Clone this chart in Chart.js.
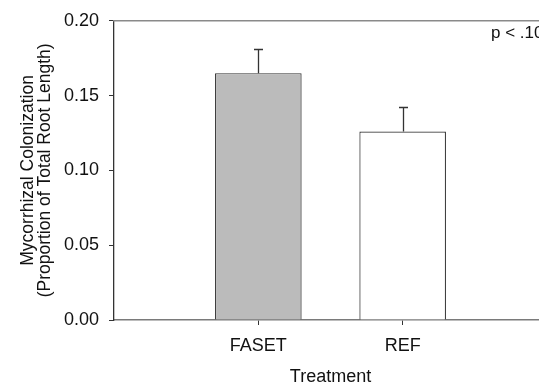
<!DOCTYPE html>
<html>
<head>
<meta charset="utf-8">
<script src="https://cdn.jsdelivr.net/npm/chart.js@4"></script>
<style>
html,body{margin:0;padding:0;background:#fff;overflow:hidden;}
#wrap{position:relative;width:560px;height:388px;}
</style>
</head>
<body>
<div id="wrap"><canvas id="c"></canvas></div>
<script>
const axisSlots = ['', 'FASET', 'REF', ''];
const categories = ['FASET', 'REF'];
const meanValues = [null, 0.165, 0.126, null];
const errorValues = [null, 0.016, 0.0165, null];
const yTickValues = [0, 0.05, 0.10, 0.15, 0.20];
const annotationText = 'p < .10';

const FONT = "'Liberation Sans', Arial, sans-serif";

const errorBarPlugin = {
  id: 'errorBars',
  afterDatasetsDraw(chart) {
    const ctx = chart.ctx;
    const xs = chart.scales.x, ys = chart.scales.y;
    ctx.save();
    ctx.strokeStyle = '#333';
    ctx.lineWidth = 1.3;
    meanValues.forEach((v, i) => {
      if (v === null) return;
      const px = Math.round(xs.getPixelForValue(i)) + 0.5;
      const y0 = ys.getPixelForValue(v);
      const y1 = Math.round(ys.getPixelForValue(v + errorValues[i])) + 0.5;
      ctx.beginPath();
      ctx.moveTo(px, y0);
      ctx.lineTo(px, y1);
      ctx.moveTo(px - 4.5, y1);
      ctx.lineTo(px + 4.5, y1);
      ctx.stroke();
    });
    ctx.restore();
  }
};

const framePlugin = {
  id: 'frame',
  afterDraw(chart) {
    const ctx = chart.ctx;
    const a = chart.chartArea;
    ctx.save();
    ctx.strokeStyle = '#8a8a8a';
    ctx.lineWidth = 1.5;
    ctx.beginPath();
    ctx.moveTo(a.left - 1, a.top);
    ctx.lineTo(a.right, a.top);
    ctx.stroke();
    ctx.fillStyle = '#111';
    ctx.font = '17px ' + FONT;
    ctx.textBaseline = 'alphabetic';
    ctx.textAlign = 'left';
    ctx.fillText(annotationText, a.left + 377, a.top + 17);
    ctx.restore();
  }
};

new Chart(document.getElementById('c'), {
  type: 'bar',
  data: {
    labels: axisSlots,
    datasets: [{
      data: meanValues,
      backgroundColor: ['#ffffff', '#bbbbbb', '#ffffff', '#ffffff'],
      borderColor: '#333333',
      borderWidth: 1.2,
      borderSkipped: 'bottom',
      barPercentage: 0.6,
      categoryPercentage: 1.0
    }]
  },
  options: {
    responsive: true,
    maintainAspectRatio: false,
    animation: false,
    layout: { padding: { top: 14, right: 13, left: 0, bottom: 0 } },
    plugins: { legend: { display: false }, tooltip: { enabled: false } },
    scales: {
      x: {
        type: 'category',
        offset: false,
        afterBuildTicks(scale) { scale.ticks = [{ value: 1 }, { value: 2 }]; },
        afterFit(scale) { scale.height = 68; },
        ticks: {
          autoSkip: false,
          maxRotation: 0,
          padding: 10,
          color: '#111',
          font: { family: FONT, size: 18 },
          callback(v) { return axisSlots[v]; }
        },
        grid: { offset: false, drawOnChartArea: false, drawTicks: true, tickLength: 5, color: '#333' },
        border: { display: true, color: '#7a7a7a', width: 1.5 },
        title: { display: true, text: 'Treatment', color: '#111', font: { family: FONT, size: 18 }, padding: { top: 2, bottom: 0 } }
      },
      y: {
        min: 0,
        max: 0.2,
        afterBuildTicks(scale) { scale.ticks = yTickValues.map(v => ({ value: v })); },
        afterFit(scale) { scale.width = 114; },
        ticks: {
          padding: 10,
          color: '#111',
          font: { family: FONT, size: 18 },
          callback(v) { return Number(v).toFixed(2); }
        },
        grid: { drawOnChartArea: false, drawTicks: true, tickLength: 5, color: '#333' },
        border: { display: true, color: '#333', width: 1.3 },
        title: {
          display: true,
          text: ['Mycorrhizal Colonization', '(Proportion of Total Root Length)'],
          color: '#111',
          font: { family: FONT, size: 17.5, lineHeight: 0.95 },
          padding: { top: 20, bottom: 0 }
        }
      }
    }
  },
  plugins: [errorBarPlugin, framePlugin]
});
</script>
</body>
</html>
